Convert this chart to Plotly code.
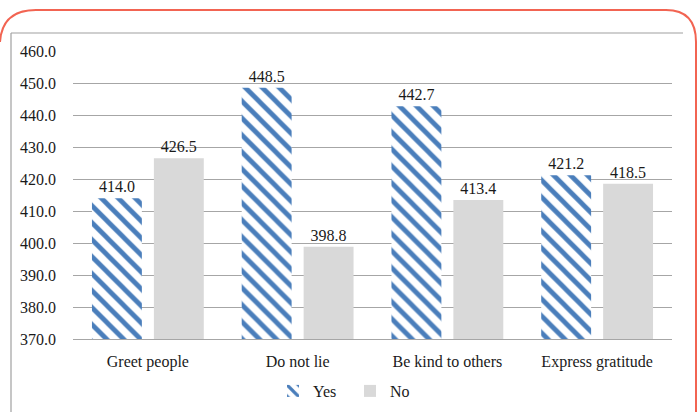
import plotly.graph_objects as go

categories = ["Greet people", "Do not lie", "Be kind to others", "Express gratitude"]
yes_values = [414.0, 448.5, 442.7, 421.2]
no_values = [426.5, 398.8, 413.4, 418.5]
y_ticks = [370, 380, 390, 400, 410, 420, 430, 440, 450, 460]

W, H = 700, 412
ML, MR, MT, MB = 73, 28, 51, 73
PW, PH = W - ML - MR, H - MT - MB

def px(x):
    return (x - ML) / PW

def py(y):
    return (H - MB - y) / PH

FONT = "Liberation Serif"
FS = 16
BLUE = "#4a7ebb"
GREY_BAR = "#d9d9d9"
GRID = "#a6a6a6"
INK = "#1a1a1a"

fig = go.Figure()
fig.add_trace(go.Bar(
    name="Yes", x=categories, y=yes_values,
    marker=dict(color="white",
                pattern=dict(shape="\\", fgcolor=BLUE, bgcolor="white",
                             fgopacity=1, size=12, solidity=0.4, fillmode="replace"),
                line=dict(width=0)),
    text=[f"{v:.1f}" for v in yes_values], textposition="outside",
    textfont=dict(family=FONT, size=FS, color=INK),
    cliponaxis=False,
))
fig.add_trace(go.Bar(
    name="No", x=categories, y=no_values,
    marker=dict(color=GREY_BAR, line=dict(width=0)),
    text=[f"{v:.1f}" for v in no_values], textposition="outside",
    textfont=dict(family=FONT, size=FS, color=INK),
    cliponaxis=False,
))

shapes = [
    # grey outer frame: top edge and left edge
    dict(type="line", xref="paper", yref="paper",
         x0=px(11), x1=px(683), y0=py(33), y1=py(33),
         line=dict(color="#a0a0a0", width=1.2)),
    dict(type="line", xref="paper", yref="paper",
         x0=px(11), x1=px(11), y0=py(33), y1=py(420),
         line=dict(color="#a0a0a0", width=1.2)),
]

# rounded red border along the top
pts = [
    ("M", (0, 42)),
    ("Q", (2, 10), (36, 10)),
    ("L", (666, 10)),
    ("Q", (696, 10), (696, 42)),
    ("L", (696, 420)),
]
path = ""
for seg in pts:
    cmd = seg[0]
    coords = " ".join(f"{px(x):.5f},{py(y):.5f}" for x, y in seg[1:])
    path += f"{cmd} {coords} "
shapes.append(dict(type="path", xref="paper", yref="paper", path=path.strip(),
                   line=dict(color="#f26452", width=2)))

fig.update_layout(
    width=W, height=H,
    margin=dict(l=ML, r=MR, t=MT, b=MB, autoexpand=False),
    paper_bgcolor="white", plot_bgcolor="white",
    barmode="group", bargap=0.173, bargroupgap=0.194,
    font=dict(family=FONT, size=FS, color=INK),
    showlegend=True,
    legend=dict(orientation="h", x=0.5, xref="container", xanchor="center",
                y=1 - 391 / H, yref="container", yanchor="middle",
                font=dict(family=FONT, size=FS, color=INK),
                itemwidth=30, entrywidth=32, traceorder="normal"),
    shapes=shapes,
)
fig.update_yaxes(range=[370, 460], tickvals=y_ticks,
                 ticktext=[f"{v:.1f}" for v in y_ticks],
                 showgrid=True, gridcolor=GRID, gridwidth=1.3,
                 zeroline=False, showline=False,
                 ticklabelstandoff=16, tickfont=dict(family=FONT, size=FS, color=INK))
fig.update_xaxes(showline=True, linecolor=GRID, linewidth=1.3,
                 showgrid=False, ticks="", ticklabelstandoff=8,
                 tickfont=dict(family=FONT, size=FS, color=INK))

fig.write_html("out.html")
